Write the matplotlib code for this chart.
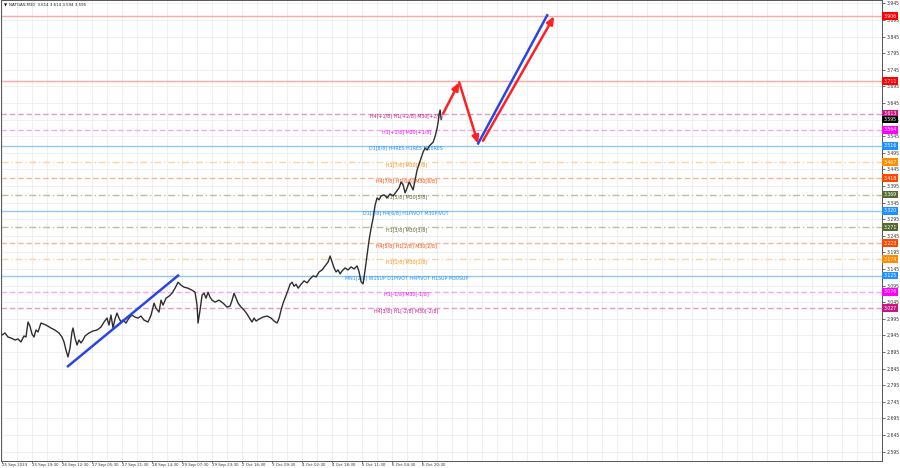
"""NATGAS M30 chart with Murrey-style levels and projected path."""

import matplotlib

matplotlib.use("Agg")
import matplotlib.pyplot as plt
import matplotlib.transforms as mtransforms

# --- data ---------------------------------------------------------------
bars = [0, 3.4, 6.8, 10.2, 14.7, 18.1, 21.5, 24.9, 27.2, 29.5, 31.7, 34, 36.3, 38.5, 40.8,
        44.2, 49.9, 55.5, 60, 64.6, 68, 70.3, 72.5, 74.8, 77.1, 79.3, 80.5, 82.7, 85, 87.3,
        89.5, 91.8, 94.1, 98.6, 103.1, 107.7, 112.2, 115.6, 119, 121.2, 123.5, 125.8, 128,
        130.3, 132.6, 134.8, 137.1, 140.5, 143.9, 147.3, 150.7, 154.1, 157.5, 160.9, 165.5,
        168.9, 172.3, 174.5, 177.9, 180.2, 182.5, 185.9, 189.3, 192.7, 196.1, 199.5, 202.9,
        206.3, 210.8, 215.3, 218.7, 221, 222.1, 224.4, 226.7, 228.9, 231.2, 233.5, 235.7, 238,
        241.4, 245.9, 250.5, 255, 258.4, 260.7, 262.9, 265.2, 267.5, 270.9, 274.3, 277.7,
        281.1, 283.3, 285.6, 287.9, 291.3, 295.8, 300.3, 304.9, 308.3, 311.7, 314, 316.2,
        318.5, 321.9, 324.1, 326.4, 328.7, 330.9, 333.2, 335.5, 338.9, 342.3, 345.7, 349.1,
        352.5, 355.9, 359.3, 362.7, 366.1, 369.5, 371.7, 374, 376.3, 378.5, 380.8, 383.1,
        385.3, 388.7, 392.1, 395.5, 398.9, 402.3, 404.6, 406.9, 409.1, 411.4, 413.7, 415.9,
        418.2, 420.5, 422.7, 425, 427.3, 429.5, 432.9, 436.3, 439.7, 443.1, 446.5, 449.9,
        452.2, 454.5, 456.7, 459, 461.3, 463.5, 465.8, 468.1, 470.3, 472.6, 474.9, 477.1,
        479.4, 481.7, 484, 486.2, 488.5, 490.8, 493, 494.2, 495.3, 496.4, 497.6]
close = [2.946, 2.952, 2.940, 2.937, 2.931, 2.934, 2.925, 2.943, 2.940, 2.985, 2.973, 2.949,
         2.940, 2.961, 2.955, 2.982, 2.976, 2.967, 2.961, 2.952, 2.940, 2.925, 2.901, 2.880,
         2.907, 2.955, 2.967, 2.937, 2.916, 2.931, 2.922, 2.931, 2.943, 2.952, 2.958, 2.961,
         2.970, 2.985, 2.997, 2.976, 3.006, 2.967, 2.994, 3.012, 2.997, 2.985, 2.991, 2.982,
         2.997, 3.006, 3.000, 2.997, 3.003, 2.991, 2.985, 3.006, 3.042, 3.027, 3.015, 3.051,
         3.036, 3.057, 3.063, 3.072, 3.087, 3.105, 3.096, 3.090, 3.087, 3.081, 3.075, 3.036,
         2.982, 3.021, 3.066, 3.072, 3.057, 3.075, 3.060, 3.051, 3.045, 3.051, 3.042, 3.030,
         3.033, 3.051, 3.072, 3.057, 3.042, 3.030, 3.021, 3.009, 2.994, 2.985, 2.997, 2.988,
         2.994, 3.000, 3.003, 2.997, 2.988, 2.982, 2.997, 3.021, 3.042, 3.066, 3.081, 3.099,
         3.105, 3.093, 3.099, 3.087, 3.099, 3.109, 3.103, 3.115, 3.124, 3.121, 3.136, 3.142,
         3.154, 3.166, 3.184, 3.166, 3.148, 3.136, 3.142, 3.130, 3.139, 3.148, 3.142, 3.151,
         3.145, 3.154, 3.136, 3.106, 3.100, 3.142, 3.187, 3.232, 3.268, 3.298, 3.337, 3.359,
         3.353, 3.365, 3.368, 3.359, 3.371, 3.365, 3.377, 3.389, 3.407, 3.398, 3.374, 3.389,
         3.407, 3.395, 3.383, 3.413, 3.443, 3.461, 3.478, 3.497, 3.509, 3.503, 3.515, 3.521,
         3.527, 3.545, 3.569, 3.588, 3.612, 3.624, 3.595]

date_labels = ["25 Sep 2023", "25 Sep 19:30", "26 Sep 12:30", "27 Sep 05:30", "27 Sep 21:30",
               "28 Sep 14:30", "29 Sep 07:30", "29 Sep 23:30", "2 Oct 16:30", "3 Oct 09:30",
               "4 Oct 02:30", "4 Oct 18:30", "5 Oct 11:30", "6 Oct 04:30", "6 Oct 20:30"]

level_price = [3.906, 3.711, 3.613, 3.564, 3.516, 3.467, 3.418, 3.369, 3.320, 3.271, 3.223,
               3.174, 3.125, 3.076, 3.027]
level_line = ["#ffa8a8", "#ffa8a8", "#e39ac6", "#f7a6f7", "#92c8f6", "#fbd3a6", "#f8b49a",
              "#bdbda2", "#92c8f6", "#bdbda2", "#f8b49a", "#fbd3a6", "#92c8f6", "#f7a6f7",
              "#e39ac6"]
level_style = ["-", "-", "--", "--", "-", "-.", "--", "-.", "-", "-.", "--", "-.", "-", "--", "--"]
level_box = ["#ff0000", "#ff0000", "#c71585", "#ff00ff", "#1e90ff", "#ff8c00", "#ff4500",
             "#556b2f", "#1e90ff", "#556b2f", "#ff4500", "#ff8c00", "#1e90ff", "#ff00ff",
             "#c71585"]
level_text = ["", "", "H4[+1/8] H1[+2/8] M30[+2/8]", "H1[+1/8] M30[+1/8]",
              "D1[8/8] H4RES H1RES M30RES", "H1[7/8] M30[7/8]", "H4[7/8] H1[6/8] M30[6/8]",
              "H1[5/8] M30[5/8]", "D1[7/8] H4[6/8] H1PIVOT M30PIVOT", "H1[3/8] M30[3/8]",
              "H4[5/8] H1[2/8] M30[2/8]", "H1[1/8] M30[1/8]",
              "MN1[2/8] W1SUP D1PIVOT H4PIVOT H1SUP M30SUP", "H1[-1/8] M30[-1/8]",
              "H4[3/8] H1[-2/8] M30[-2/8]"]

last_price = 3.595
ohlc_title = "NATGAS,M30  3.614 3.614 3.594 3.595"

# projected path: (bar, price) pairs
trend_blue_1 = ([74.8, 199.5], [2.852, 3.125])
trend_blue_2 = ([539.5, 617.7], [3.523, 3.909])
red_arrows = [((499.8, 3.613), (518.0, 3.707)),
              ((518.0, 3.707), (539.5, 3.522)),
              ((545.0, 3.531), (625.6, 3.906))]

price_ticks = [2.595 + 0.05 * k for k in range(28)]

DASHES = {"--": (4, 2), "-.": (5, 2, 1, 2)}

# --- figure -------------------------------------------------------------
fig = plt.figure(figsize=(9, 4.68), dpi=100)
ax = fig.add_axes([1 / 900, 7.5 / 468, 881 / 900, 460.5 / 468])
ax.set_xlim(-1.1, 997)
ax.set_ylim(2.568, 3.955)

# grid
for b in range(0, 1000, 17):
    ax.axvline(b, color="#ececec", lw=0.6, zorder=0)
for p in price_ticks:
    ax.axhline(p, color="#ececec", lw=0.6, zorder=0)

# levels
for p, c, ls in zip(level_price, level_line, level_style):
    line = ax.axhline(p, color=c, lw=1.0, zorder=1)
    if ls in DASHES:
        line.set_dashes(DASHES[ls])
for p, t, c in zip(level_price, level_text, level_box):
    if t:
        ax.text(458, p - 0.007, t, color=c, fontsize=3.4, ha="center", va="center", zorder=2)

# price
ax.plot(bars, close, color="#2e2e2e", lw=1.0, zorder=3)

# projection
ax.plot(*trend_blue_1, color="#2846e6", lw=1.8, zorder=4)
ax.plot(*trend_blue_2, color="#2846e6", lw=1.8, zorder=4)
for (x0, y0), (x1, y1) in red_arrows:
    ax.annotate("", xy=(x1, y1), xytext=(x0, y0),
                arrowprops=dict(arrowstyle="-|>,head_length=0.45,head_width=0.2",
                                color="#ff2020", lw=1.8, shrinkA=0, shrinkB=0), zorder=5)

# axes cosmetics
for s in ax.spines.values():
    s.set_color("#555555")
    s.set_linewidth(0.7)
ax.yaxis.tick_right()
ax.set_yticks(price_ticks)
ax.set_yticklabels([f"{p:.3f}" for p in price_ticks])
ax.tick_params(axis="y", length=2, width=0.5, pad=1.5, labelsize=3.3, colors="#333333")
ax.set_xticks([34 * i for i in range(len(date_labels))])
ax.set_xticklabels(date_labels)
ax.tick_params(axis="x", length=1.5, width=0.5, pad=0.6, labelsize=2.9, colors="#333333")
for lab in ax.get_xticklabels():
    lab.set_ha("left")

# right-side price boxes
trans = mtransforms.blended_transform_factory(ax.transAxes, ax.transData)
for p, c in zip(level_price, level_box):
    ax.text(1.0015, p, f"{p:.3f}", transform=trans, color="white", fontsize=3.3,
            ha="left", va="center", clip_on=False, zorder=10,
            bbox=dict(boxstyle="square,pad=0.3", fc=c, ec="none"))
ax.text(1.0015, last_price, f"{last_price:.3f}", transform=trans, color="white",
        fontsize=3.3, ha="left", va="center", clip_on=False, zorder=11,
        bbox=dict(boxstyle="square,pad=0.3", fc="black", ec="none"))

# title
ax.text(0.003, 0.993, "\u25bc", transform=ax.transAxes, fontsize=2.9, ha="left", va="top")
ax.text(0.009, 0.993, ohlc_title, transform=ax.transAxes, fontsize=2.9, ha="left", va="top",
        color="#222222")

fig.savefig("out.png", dpi=100)
